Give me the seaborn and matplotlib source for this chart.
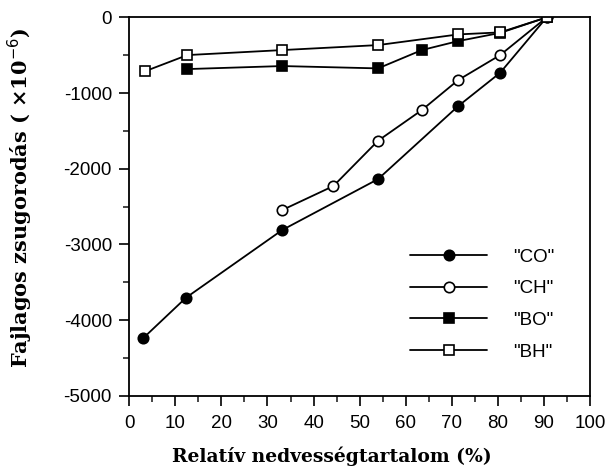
import matplotlib
matplotlib.use("Agg")
import matplotlib.pyplot as plt
from matplotlib.ticker import MultipleLocator
import seaborn as sns
import pandas as pd

# Data
co_x = [3.0, 12.3, 33.2, 54.0, 71.4, 80.5, 90.6]
co_y = [-4240, -3705, -2810, -2137, -1172, -732, 0]

ch_x = [33.2, 44.3, 54.0, 63.5, 71.4, 80.5, 90.6]
ch_y = [-2546, -2229, -1630, -1225, -828, -498, 0]

bo_x = [12.6, 33.2, 54.0, 63.5, 71.4, 80.5, 90.6]
bo_y = [-683, -643, -674, -432, -313, -205, 0]

bh_x = [3.5, 12.6, 33.2, 54.0, 71.4, 80.5, 90.6]
bh_y = [-710, -498, -432, -366, -225, -198, 0]

labels = ['"CO"', '"CH"', '"BO"', '"BH"']
x_label = "Relatív nedvességtartalom (%)"
y_label = "Fajlagos zsugorodás ( ×10$^{-6}$)"

sns.set_style("white")
plt.rcParams["font.family"] = ["Liberation Sans", "DejaVu Sans"]
plt.rcParams["axes.unicode_minus"] = False
plt.rcParams["text.color"] = "black"
plt.rcParams["axes.labelcolor"] = "black"

fig = plt.figure(figsize=(6.11, 4.70), dpi=100)
ax = fig.add_axes([0.2116, 0.158, 0.754, 0.805])

series = [
    (co_x, co_y, labels[0], "o", "black", 7.5),
    (ch_x, ch_y, labels[1], "o", "white", 7.5),
    (bo_x, bo_y, labels[2], "s", "black", 6.5),
    (bh_x, bh_y, labels[3], "s", "white", 6.5),
]
for xs, ys, lab, mk, fc, ms in series:
    df = pd.DataFrame({"x": xs, "y": ys})
    sns.lineplot(data=df, x="x", y="y", ax=ax, color="black", linewidth=1.3,
                 marker=mk, markersize=ms, markerfacecolor=fc,
                 markeredgecolor="black", markeredgewidth=1.2, label=lab,
                 sort=False)

ax.set_xlim(0, 100)
ax.set_ylim(-5000, 0)
ax.xaxis.set_major_locator(MultipleLocator(10))
ax.xaxis.set_minor_locator(MultipleLocator(5))
ax.yaxis.set_major_locator(MultipleLocator(1000))
ax.yaxis.set_minor_locator(MultipleLocator(500))
ax.tick_params(which="major", direction="out", length=7, width=1.2,
               labelsize=13.5, left=True, bottom=True, colors="black")
ax.tick_params(axis="x", which="major", pad=7)
ax.tick_params(axis="y", which="major", pad=5.5)
ax.tick_params(which="minor", direction="out", length=4, width=1.2,
               left=True, bottom=True)
for sp in ax.spines.values():
    sp.set_linewidth(1.3)
    sp.set_color("black")

ax.set_xlabel(x_label, family=["DejaVu Serif"], fontweight="bold", fontsize=13.5)
ax.set_ylabel(y_label, family=["DejaVu Serif"], fontweight="bold", fontsize=15)
ax.xaxis.set_label_coords(0.44, -0.133)
ax.yaxis.set_label_coords(-0.2047, 0.522)

leg = ax.legend(loc="upper left", bbox_to_anchor=(0.5735, 0.434), frameon=False,
                handlelength=4.1, fontsize=13.5, labelspacing=0.78,
                handletextpad=1.39, borderpad=0.4)

fig.savefig("out.png", dpi=100)
